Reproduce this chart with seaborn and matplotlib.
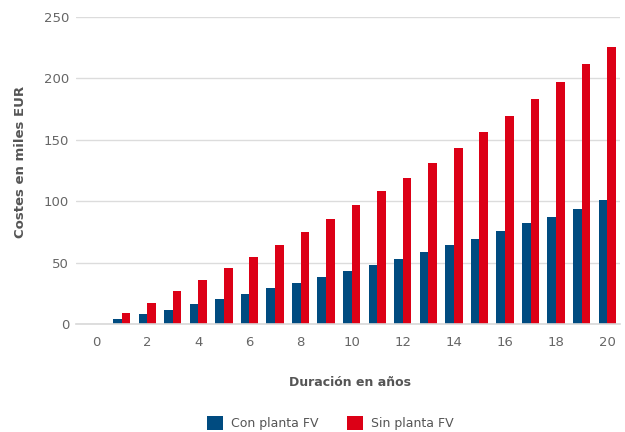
import matplotlib
matplotlib.use("Agg")
import matplotlib.pyplot as plt
import seaborn as sns
import pandas as pd
import numpy as np
from matplotlib.patches import Patch

years = list(range(0, 21))
con_planta = [0, 4, 8, 11.5, 16, 20, 24.5, 29, 33.5, 38, 43, 48, 53, 58.5, 64, 69.5, 75.5, 82, 87.5, 94, 101]
sin_planta = [0, 9, 17.5, 26.5, 35.5, 45.5, 54.5, 64.5, 75, 85.5, 96.5, 108, 119, 131, 143.5, 156.5, 169.5, 183, 197, 211.5, 225.5]
series_names = ["Con planta FV", "Sin planta FV"]
colors = ["#004b80", "#dc0016"]
ylabel = "Costes en miles EUR"
xlabel = "Duración en años"

df = pd.DataFrame({
    "year": years * 2,
    "value": con_planta + sin_planta,
    "serie": [series_names[0]] * len(years) + [series_names[1]] * len(years),
})

sns.set_style("white")
plt.rcParams["font.family"] = ["DejaVu Sans"]

fig = plt.figure(figsize=(6.25, 4.32), dpi=100)
W, H = 625, 432
ax = fig.add_axes([76 / W, 1 - 324 / H, (620 - 76) / W, (324 - 17) / H])

sns.barplot(data=df, x="year", y="value", hue="serie", order=years,
            hue_order=series_names, palette=colors, width=0.68,
            linewidth=0, saturation=1, ax=ax, legend=False, errorbar=None)

cat_w = (620 - 83.3) / 21
ax.set_xlim(-0.5 - (83.3 - 76) / cat_w, 20.5)
ax.set_ylim(0, 250)
ax.set_yticks([0, 50, 100, 150, 200, 250])
ax.grid(axis="y", color="#dcdcdc", linewidth=1)
ax.set_axisbelow(True)

for s in ["top", "right", "left"]:
    ax.spines[s].set_visible(False)
ax.spines["bottom"].set_color("#d8d8d8")
ax.spines["bottom"].set_linewidth(1.2)

ax.set_xticks(range(0, 21, 2))
ax.set_xticklabels([str(v) for v in range(0, 21, 2)])
ax.set_xticks(np.arange(-0.5, 21, 1), minor=True)
ax.tick_params(axis="x", which="major", length=0, pad=9, labelsize=9.5, labelcolor="#666666")
ax.tick_params(axis="x", which="minor", length=5, width=1, color="#d8d8d8", direction="out")
ax.tick_params(axis="y", length=0, pad=5, labelsize=9.5, labelcolor="#666666")

ax.set_xlabel(xlabel, fontsize=9, fontweight="bold", color="#555555")
ax.set_ylabel(ylabel, fontsize=9.5, fontweight="bold", color="#555555")
ax.xaxis.set_label_coords((350 - 76) / (620 - 76), -(376 - 324) / (324 - 17))
ax.yaxis.set_label_coords(-(76 - 27) / (620 - 76), (324 - 162) / (324 - 17))

handles = [Patch(facecolor=c, edgecolor="none") for c in colors]
fig.legend(handles, series_names, loc="center", bbox_to_anchor=(330 / W, 1 - 423 / H),
           ncol=2, frameon=False, fontsize=9, handlelength=1.3, handleheight=1.3,
           columnspacing=2.3, handletextpad=0.6, labelcolor="#555555")

fig.savefig("out.png", dpi=100)
